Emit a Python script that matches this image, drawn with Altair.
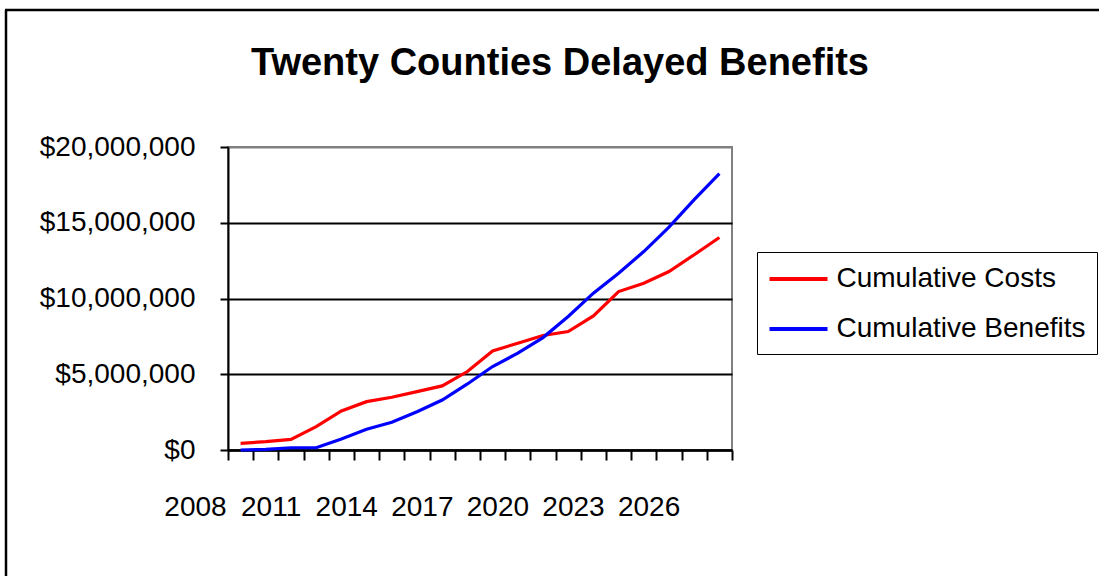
import altair as alt
import pandas as pd

years = list(range(2008, 2028))
costs = [440000, 550000, 700000, 1540000, 2580000, 3190000, 3480000, 3850000, 4230000, 5180000,
         6540000, 7050000, 7560000, 7820000, 8850000, 10460000, 11010000, 11780000, 12890000, 14030000]
benefits = [0, 40000, 150000, 150000, 730000, 1370000, 1830000, 2530000, 3300000, 4360000,
            5510000, 6390000, 7420000, 8810000, 10350000, 11670000, 13100000, 14710000, 16520000, 18240000]
series_names = ["Cumulative Costs", "Cumulative Benefits"]
series_colors = ["#FF0000", "#0000FF"]
y_ticks = [0, 5000000, 10000000, 15000000, 20000000]
x_ticks = [y - 0.5 for y in years] + [years[-1] + 0.5]

rows = []
for yr, c, b in zip(years, costs, benefits):
    rows.append({"year": yr, "series": series_names[0], "value": c})
    rows.append({"year": yr, "series": series_names[1], "value": b})
df = pd.DataFrame(rows)

FONT = "Liberation Sans"

lines = alt.Chart(df).mark_line(strokeWidth=3.2).encode(
    x=alt.X("year:Q",
            scale=alt.Scale(domain=[years[0] - 0.5, years[-1] + 0.5], nice=False, zero=False),
            axis=alt.Axis(values=x_ticks, title=None, grid=False,
                          labelExpr="((datum.value - 2007.5) % 3 == 0 && datum.value < 2027) ? format(datum.value + 0.5, 'd') : ''",
                          labelOffset=-33, labelPadding=33, labelFlush=False, labelOverlap=False,
                          labelBound=False,
                          tickSize=10, tickWidth=2, tickColor="black",
                          domainColor="black", domainWidth=2.5,
                          labelFont=FONT, labelFontSize=28, labelColor="black")),
    y=alt.Y("value:Q",
            scale=alt.Scale(domain=[0, 20000000], nice=False),
            axis=alt.Axis(values=y_ticks, title=None, format="$,.0f",
                          grid=True,
                          gridColor=alt.condition("datum.value >= 20000000", alt.value("#808080"), alt.value("black")),
                          gridWidth=2,
                          tickSize=8, tickWidth=2, tickColor="black",
                          domainColor="black", domainWidth=2,
                          labelPadding=25, labelFont=FONT, labelFontSize=28,
                          labelColor="black")),
    color=alt.Color("series:N",
                    scale=alt.Scale(domain=series_names, range=series_colors),
                    sort=series_names,
                    legend=alt.Legend(title=None, orient="none", legendX=529, legendY=105,
                                      symbolType="M-2,0L2,0", symbolSize=841, symbolStrokeWidth=4,
                                      symbolOffset=14.5,
                                      labelFont=FONT, labelFontSize=28, labelColor="black",
                                      labelOffset=21.5, rowPadding=19, padding=10.5,
                                      strokeColor="black", fillColor="white",
                                      labelLimit=400)),
)

frame_data = alt.Data(values=[{"k": 0}])
frame_left = alt.Chart(frame_data).mark_rule(color="black", strokeWidth=2.5).encode(
    x=alt.value(-222), y=alt.value(-137), y2=alt.value(500))
frame_top = alt.Chart(frame_data).mark_rule(color="black", strokeWidth=2.5).encode(
    x=alt.value(-223), x2=alt.value(900), y=alt.value(-137))

chart = alt.layer(lines, frame_left, frame_top).properties(
    width=504, height=303,
    padding={"left": 228, "top": 147, "right": 367, "bottom": 126},
    autosize=alt.AutoSizeParams(type="none"),
    background="white",
    title=alt.TitleParams("Twenty Counties Delayed Benefits", font=FONT, fontSize=38,
                          fontWeight="bold", color="black", anchor="middle", frame="group",
                          dx=80, dy=104, offset=0, baseline="alphabetic"),
).configure_view(stroke="#808080", strokeWidth=2)

chart.save("out.html", embed_options={"renderer": "svg", "actions": False})
